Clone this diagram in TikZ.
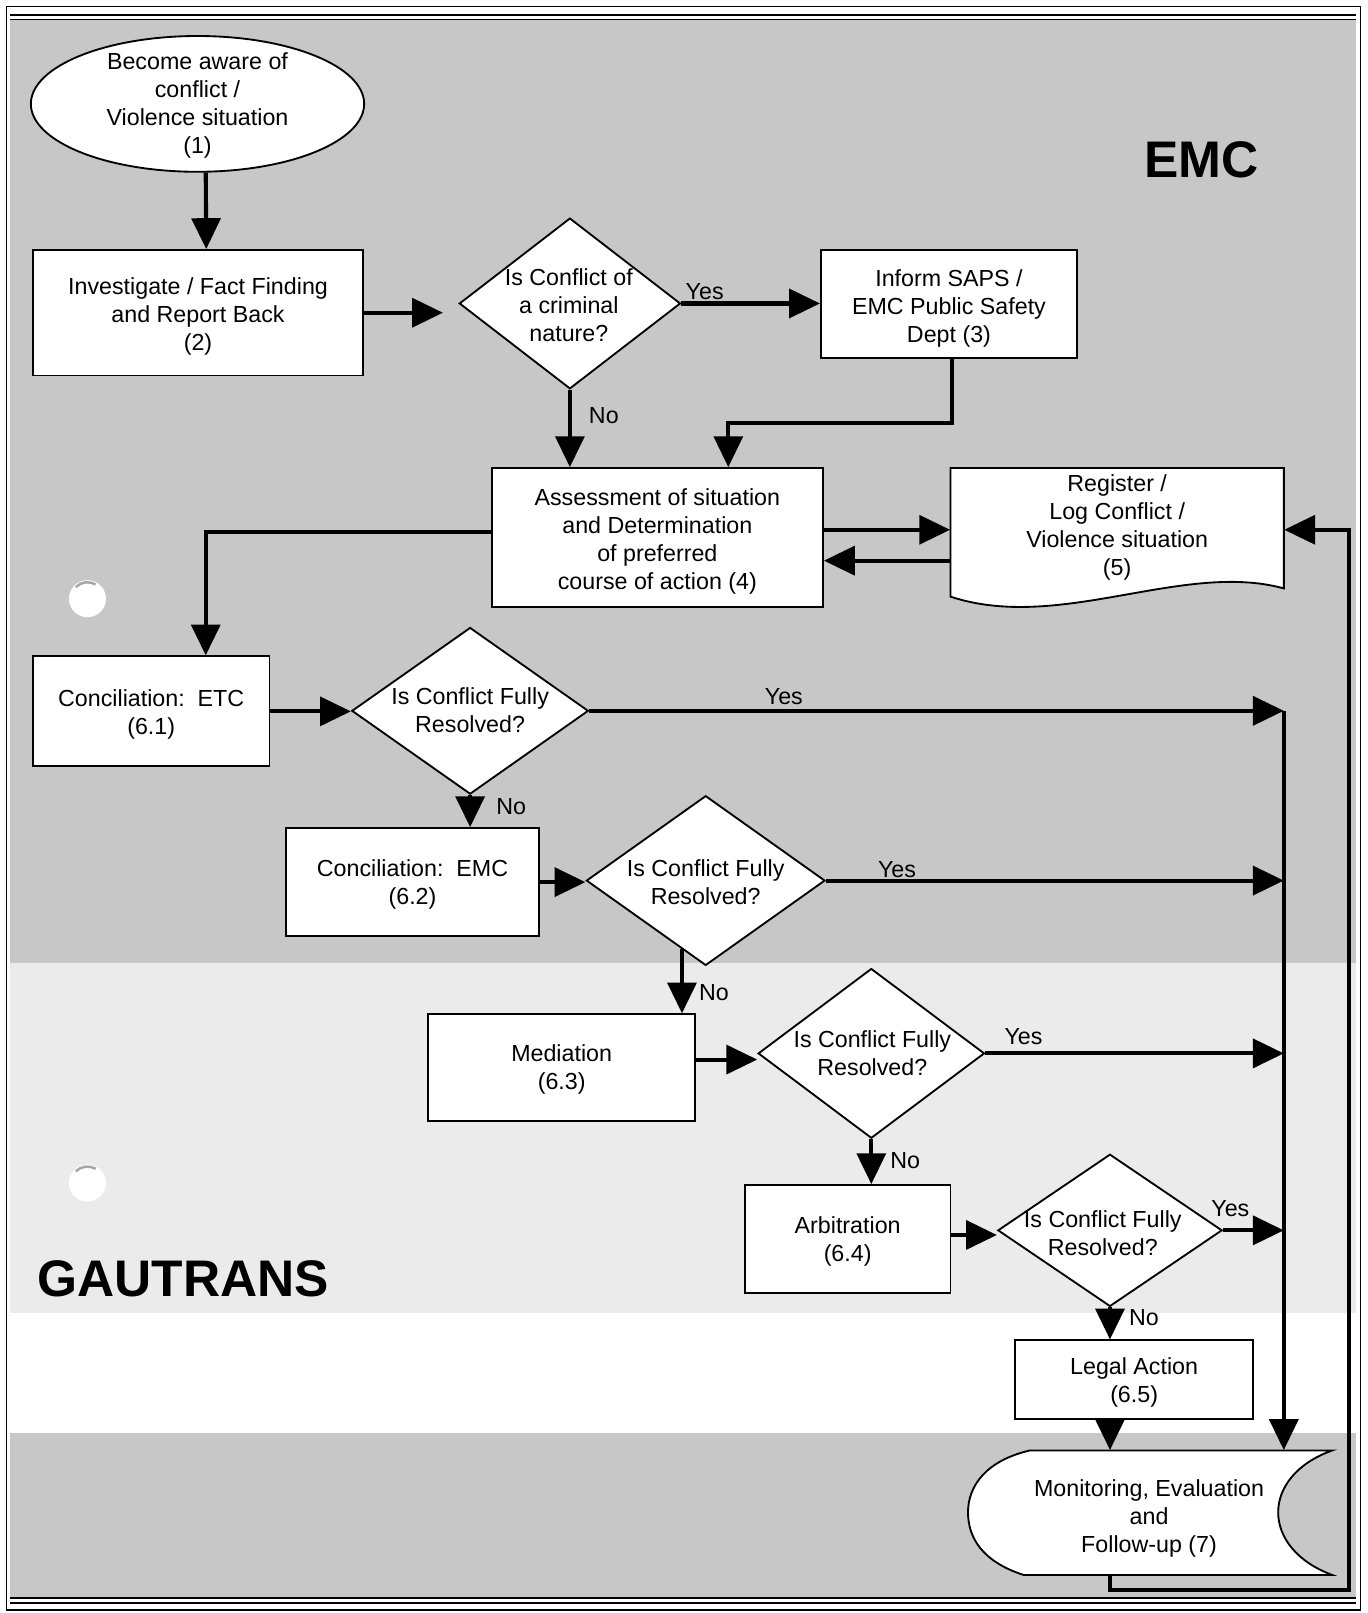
\documentclass[tikz,border=0pt]{standalone}
\usepackage{fontspec}
\setmainfont{Liberation Sans}
\usetikzlibrary{arrows.meta,shapes.geometric,calc}
\definecolor{bgdark}{gray}{0.78}
\definecolor{bglight}{gray}{0.92}
\begin{document}
\begin{tikzpicture}[x=0.5pt,y=-0.5pt,
  every node/.style={font=\fontsize{11.3}{13.6}\selectfont, align=center, inner sep=0pt},
  box/.style={draw, line width=0.9pt, fill=white, rectangle},
  dia/.style={draw, line width=0.9pt, fill=white, diamond},
  conn/.style={line width=2pt, -{Triangle[length=15pt,width=14pt]}},
  outline/.style={draw, line width=0.9pt, fill=white},
  big/.style={font=\bfseries\fontsize{25}{30}\selectfont}]

\useasboundingbox (0,0) rectangle (1329,1568);
% background
\fill[white] (0,0) rectangle (1329,1568);
\fill[bgdark] (10,19) rectangle (1318,936);
\fill[bglight] (10,936) rectangle (1318,1276);
\fill[bgdark] (10,1393) rectangle (1318,1552);
\draw[line width=0.6pt] (6.5,6.5) rectangle (1322.5,1565);
\draw[line width=1pt] (10,14.5) -- (1318,14.5);
\draw[line width=0.8pt] (10,19) -- (1318,19);
\draw[line width=1pt] (10,1553) -- (1318,1553);
\draw[line width=0.8pt] (10,1558) -- (1318,1558);

% hole punches
\fill[white] (85,582) circle[radius=9pt];
\draw[gray!70, line width=1.2pt] (85,582) ++(135:8pt) arc[start angle=135, end angle=60, radius=8pt];
\fill[white] (85,1150) circle[radius=9pt];
\draw[gray!70, line width=1.2pt] (85,1150) ++(135:8pt) arc[start angle=135, end angle=60, radius=8pt];

% titles
\node[big] (emc) at (1168,155) {EMC};
\node[big] (gautrans) at (178,1243) {GAUTRANS};

% nodes
\node[draw, ellipse, line width=0.9pt, fill=white, minimum width=162pt, minimum height=66pt] (e1) at (192,101) {};
\node (e1t) at (192,103) {Become aware of\\conflict /\\Violence situation\\(1)};

\node[box, minimum width=160.5pt, minimum height=61pt] (b2) at (192.5,304) {};
\node (b2t) at (192.5,308) {Investigate / Fact Finding\\and Report Back\\(2)};

\node[dia, minimum width=107.5pt, minimum height=83pt] (q1) at (554,295) {};
\node (q1t) at (553,296.5) {Is Conflict of\\a criminal\\nature?};

\node[box, minimum width=124.5pt, minimum height=52.5pt] (b3) at (922.5,295.5) {};
\node (b3t) at (922.5,299.5) {Inform SAPS /\\EMC Public Safety\\Dept (3)};

\node[box, minimum width=161pt, minimum height=67.5pt] (b4) at (639,522.5) {};
\node (b4t) at (639,526) {Assessment of situation\\and Determination\\of preferred\\course of action (4)};

\node[minimum width=162pt, minimum height=62.5pt] (d5) at (1086,517.5) {};
\path[outline] (924,580) -- (924,455) -- (1248,455) -- (1248,572)
  .. controls (1150,545) and (1030,615) .. (924,580) -- cycle;
\node (d5t) at (1086,513) {Register /\\Log Conflict /\\Violence situation\\(5)};

\node[box, minimum width=115pt, minimum height=53.5pt] (b61) at (147,691.5) {};
\node (b61t) at (147,694.5) {Conciliation:\ \ ETC\\(6.1)};
\node[dia, minimum width=115pt, minimum height=81pt] (q61) at (457,691) {};
\node (q61t) at (457,690.5) {Is Conflict Fully\\Resolved?};

\node[box, minimum width=123pt, minimum height=52.5pt] (b62) at (401,857.5) {};
\node (b62t) at (401,859.5) {Conciliation:\ \ EMC\\(6.2)};
\node[dia, minimum width=116pt, minimum height=82.5pt] (q62) at (686,856) {};
\node (q62t) at (686,857.5) {Is Conflict Fully\\Resolved?};

\node[box, minimum width=130pt, minimum height=52pt] (b63) at (546,1038) {};
\node (b63t) at (546,1040) {Mediation\\(6.3)};
\node[dia, minimum width=110pt, minimum height=82.5pt] (q63) at (847,1024) {};
\node (q63t) at (848,1024) {Is Conflict Fully\\Resolved?};

\node[box, minimum width=100pt, minimum height=52.5pt] (b64) at (824,1204.5) {};
\node (b64t) at (824,1207) {Arbitration\\(6.4)};
\node[dia, minimum width=109pt, minimum height=74pt] (q64) at (1079,1196) {};
\node (q64t) at (1072,1198.5) {Is Conflict Fully\\Resolved?};

\node[box, minimum width=115.5pt, minimum height=38pt] (b65) at (1102.5,1341) {};
\node (b65t) at (1102.5,1344) {Legal Action\\(6.5)};

\node[minimum width=177pt, minimum height=60.5pt] (t7) at (1118,1470.5) {};
\path[outline] (1001,1410) -- (1295,1410)
  .. controls (1225,1435) and (1225,1505) .. (1295,1531)
  -- (995,1531)
  .. controls (955,1518) and (941,1495) .. (941,1470)
  .. controls (941,1445) and (958,1420) .. (1001,1410) -- cycle;
\node (t7t) at (1117,1476) {Monitoring, Evaluation\\and\\Follow-up (7)};

% labels
\node (l1) at (685,283) {Yes};
\node (l2) at (587,404) {No};
\node (l3) at (762,677) {Yes};
\node (l4) at (497,784) {No};
\node (l5) at (872,845) {Yes};
\node (l6) at (694,965) {No};
\node (l7) at (995,1008) {Yes};
\node (l8) at (880,1128) {No};
\node (l9) at (1196,1175) {Yes};
\node (l10) at (1112,1281) {No};

% connectors
\draw[conn] ([xshift=4pt]e1.south) -- ([xshift=4pt]b2.north);
\draw[conn, shorten >=7.5pt] (b2.east) -- (b2.east -| q1.west);
\draw[conn] (q1.east) -- (q1.east -| b3.west);
\draw[conn] (q1.south) -- (q1.south |- b4.north);
\draw[conn] ([xshift=1.25pt]b3.south) -- ++(0,62) -| ([xshift=34.5pt]b4.north);

\coordinate (a1) at ([yshift=3.75pt]b4.east);
\coordinate (a2) at ([yshift=-11.25pt]b4.east);
\draw[conn] (a1) -- (a1 -| d5.west);
\draw[conn] (a2 -| d5.west) -- (a2);

\draw[conn] ([yshift=2.5pt]b4.west) -| ([xshift=26.5pt]b61.north);

\draw[conn] (b61.east) -- (b61.east -| q61.west);
\draw[conn] (q61.south) -- (q61.south |- b62.north);
\draw[conn] (b62.east) -- (b62.east -| q62.west);
\draw[conn] (q62.251) -- (q62.251 |- b63.north);
\coordinate (m3) at ([yshift=4pt]b63.east);
\draw[conn] (m3) -- (m3 -| q63.west);
\draw[conn] (q63.south) -- (q63.south |- b64.north);
\coordinate (m4) at ([yshift=2pt]b64.east);
\draw[conn] (m4) -- (m4 -| q64.west);
\draw[conn] (q64.south) -- (q64.south |- b65.north);
\draw[conn] (q64.south |- b65.south) -- (q64.south |- t7.north);

% collector line on the right
\coordinate (c0) at (1248,0);
\coordinate (c1) at (q61.east -| c0);
\draw[conn] (q61.east) -- (c1);
\draw[conn] (q62.east) -- (q62.east -| c0);
\draw[conn] (q63.east) -- (q63.east -| c0);
\draw[conn] (q64.east) -- (q64.east -| c0);
\draw[conn] (c1) -- (c1 |- t7.north);

% loop back to register
\coordinate (lp) at (1311,1546);
\draw[conn] (q64.south |- t7.south) |- (lp) |- (a1 -| d5.east);
\end{tikzpicture}
\end{document}
